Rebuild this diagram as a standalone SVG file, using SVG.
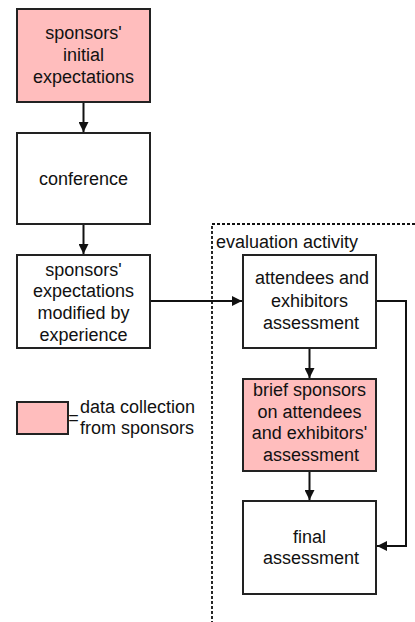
<svg xmlns="http://www.w3.org/2000/svg" width="415" height="622" viewBox="0 0 415 622">
<style>
.box{fill:#fff;stroke:#222;stroke-width:2}
.pink{fill:#FFBDBD}
text{font-family:"Liberation Sans",Arial,sans-serif;font-size:18px;fill:#111;text-anchor:middle}
.conn{fill:none;stroke:#111;stroke-width:2}
</style>
<defs>
<marker id="ah" viewBox="0 0 10 10" refX="10" refY="5" markerWidth="5" markerHeight="5" orient="auto" markerUnits="strokeWidth">
<path d="M0,0 L10,5 L0,10 Z" fill="#111"/>
</marker>
</defs>
<rect x="212" y="224" width="220" height="410" fill="none" stroke="#111" stroke-width="1.8" stroke-dasharray="3 2"/>
<text x="216" y="248" style="text-anchor:start">evaluation activity</text>
<g id="connectors">
<line class="conn" x1="83.5" y1="102" x2="83.5" y2="132" marker-end="url(#ah)"/>
<line class="conn" x1="83.5" y1="224" x2="83.5" y2="254" marker-end="url(#ah)"/>
<line class="conn" x1="150" y1="301" x2="242" y2="301" marker-end="url(#ah)"/>
<line class="conn" x1="309.5" y1="348" x2="309.5" y2="378" marker-end="url(#ah)"/>
<line class="conn" x1="309.5" y1="471" x2="309.5" y2="500" marker-end="url(#ah)"/>
<polyline class="conn" points="376,301 406,301 406,546 377,546" marker-end="url(#ah)"/>
</g>
<g id="n1">
<rect class="box pink" x="17" y="9" width="133" height="93"/>
<text x="83.5" y="39">sponsors'</text>
<text x="83.5" y="61">initial</text>
<text x="83.5" y="83">expectations</text>
</g>
<g id="n2">
<rect class="box" x="17" y="133" width="133" height="91"/>
<text x="83.5" y="185">conference</text>
</g>
<g id="n3">
<rect class="box" x="17" y="255" width="133" height="93"/>
<text x="83.5" y="276">sponsors'</text>
<text x="83.5" y="297">expectations</text>
<text x="83.5" y="319">modified by</text>
<text x="83.5" y="341">experience</text>
</g>
<g id="legend">
<rect class="box pink" x="17" y="402" width="51" height="32"/>
<text x="73.5" y="424">=</text>
<text x="80" y="413" style="text-anchor:start">data collection</text>
<text x="80" y="434" style="text-anchor:start">from sponsors</text>
</g>
<g id="n4">
<rect class="box" x="243" y="255" width="133" height="93"/>
<text x="312" y="284">attendees and</text>
<text x="309.5" y="307">exhibitors</text>
<text x="311" y="329">assessment</text>
</g>
<g id="n5">
<rect class="box pink" x="243" y="379" width="133" height="92"/>
<text x="309.5" y="396">brief sponsors</text>
<text x="309.5" y="418">on attendees</text>
<text x="309.5" y="439">and exhibitors'</text>
<text x="311" y="461">assessment</text>
</g>
<g id="n6">
<rect class="box" x="243" y="501" width="133" height="93"/>
<text x="309.5" y="543">final</text>
<text x="311" y="564">assessment</text>
</g>
</svg>
